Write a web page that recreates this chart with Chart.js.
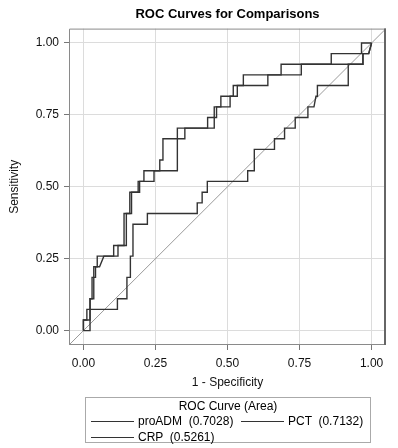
<!DOCTYPE html>
<html>
<head>
<meta charset="utf-8">
<script src="https://cdn.jsdelivr.net/npm/chart.js@4.4.1/dist/chart.umd.min.js"></script>
<style>
  html, body { margin: 0; padding: 0; background: #fff; }
  #wrap { position: relative; width: 398px; height: 448px; font-family: "Liberation Sans", Arial, sans-serif; }
  #c { position: absolute; left: 0; top: 0; }
  #legend { position: absolute; left: 85px; top: 397px; width: 286px; height: 46px; border: 1px solid #aaa; box-sizing: border-box; font-size: 12px; color: #000; }
  #legend .ttl { position: absolute; left: 0; right: 0; top: 1px; text-align: center; }
  #legend .item { position: absolute; height: 14px; white-space: pre; }
  #legend .ln { position: absolute; left: 0; top: 7px; width: 43px; border-top: 1px solid #333; }
  #legend .tx { position: absolute; left: 47px; top: 0; line-height: 14px; }
</style>
</head>
<body>
<div id="wrap">
  <canvas id="c" width="398" height="448"></canvas>
  <div id="legend"></div>
</div>
<script>
// ---- data ----
const chartTitle = "ROC Curves for Comparisons";
const xTitle = "1 - Specificity";
const yTitle = "Sensitivity";
const legendTitle = "ROC Curve (Area)";
const tickValues = [0, 0.25, 0.5, 0.75, 1.0];
const axisRange = [-0.05, 1.05];

const seriesNames = ["proADM", "PCT", "CRP"];
const seriesAUC = ["0.7028", "0.7132", "0.5261"];

// proADM: 1 - specificity, sensitivity
const proadmFPR = [0, 0.023, 0.023, 0.03, 0.03, 0.042, 0.042, 0.056, 0.071, 0.12, 0.12, 0.149, 0.149, 0.167, 0.167, 0.195, 0.195, 0.245, 0.245, 0.326, 0.326, 0.454, 0.454, 0.462, 0.462, 0.509, 0.509, 0.534, 0.534, 0.64, 0.64, 0.756, 0.756, 0.97, 0.97, 0.99, 1];
const proadmTPR = [0, 0, 0.111, 0.111, 0.185, 0.185, 0.222, 0.222, 0.259, 0.259, 0.296, 0.296, 0.407, 0.407, 0.481, 0.481, 0.519, 0.519, 0.556, 0.556, 0.704, 0.704, 0.741, 0.741, 0.778, 0.778, 0.815, 0.815, 0.852, 0.852, 0.889, 0.889, 0.926, 0.926, 0.963, 0.963, 1];

// PCT
const pctFPR = [0, 0, 0.012, 0.012, 0.023, 0.023, 0.036, 0.036, 0.048, 0.048, 0.105, 0.105, 0.141, 0.141, 0.161, 0.161, 0.19, 0.19, 0.21, 0.21, 0.265, 0.265, 0.276, 0.276, 0.352, 0.352, 0.431, 0.431, 0.454, 0.454, 0.477, 0.477, 0.52, 0.52, 0.555, 0.555, 0.686, 0.686, 0.86, 0.86, 0.965, 0.965, 1];
const pctTPR = [0, 0.037, 0.037, 0.074, 0.074, 0.111, 0.111, 0.222, 0.222, 0.259, 0.259, 0.296, 0.296, 0.407, 0.407, 0.481, 0.481, 0.519, 0.519, 0.556, 0.556, 0.593, 0.593, 0.667, 0.667, 0.704, 0.704, 0.741, 0.741, 0.778, 0.778, 0.815, 0.815, 0.852, 0.852, 0.889, 0.889, 0.926, 0.926, 0.963, 0.963, 1, 1];

// CRP
const crpFPR = [0, 0, 0.023, 0.023, 0.118, 0.118, 0.151, 0.151, 0.163, 0.163, 0.172, 0.172, 0.222, 0.222, 0.395, 0.395, 0.412, 0.412, 0.43, 0.43, 0.57, 0.57, 0.593, 0.593, 0.663, 0.663, 0.698, 0.698, 0.735, 0.735, 0.779, 0.779, 0.8, 0.807, 0.812, 0.812, 0.919, 0.919, 0.97, 0.97, 0.99, 1];
const crpTPR = [0, 0.037, 0.037, 0.074, 0.074, 0.111, 0.111, 0.185, 0.185, 0.259, 0.259, 0.370, 0.370, 0.407, 0.407, 0.444, 0.444, 0.481, 0.481, 0.519, 0.519, 0.556, 0.556, 0.630, 0.630, 0.667, 0.667, 0.704, 0.704, 0.741, 0.741, 0.778, 0.778, 0.815, 0.815, 0.852, 0.852, 0.926, 0.926, 0.963, 0.963, 1];

// chance line y = x across the axis range
const chanceLine = axisRange;

// ---- build chart ----
const FONT = '"Liberation Sans", Arial, sans-serif';
const toPts = (xs, ys) => xs.map((x, i) => ({ x: x, y: ys[i] }));
const curveStyle = { showLine: true, pointRadius: 0, pointHoverRadius: 0, borderColor: '#333', borderWidth: 1.4, fill: false, tension: 0 };

const frame = {
  id: 'frame',
  afterDatasetsDraw(chart) {
    const { ctx, chartArea: a } = chart;
    ctx.save();
    ctx.strokeStyle = '#8a8a8a';
    ctx.lineWidth = 1;
    ctx.beginPath();
    ctx.moveTo(a.right, a.top + 0.5); ctx.lineTo(a.left + 0.5, a.top + 0.5);
    ctx.lineTo(a.left + 0.5, a.bottom - 0.5); ctx.lineTo(a.right, a.bottom - 0.5);
    ctx.stroke();
    ctx.strokeStyle = '#666';
    ctx.lineWidth = 2;
    ctx.beginPath();
    ctx.moveTo(a.right - 1, a.top); ctx.lineTo(a.right - 1, a.bottom);
    ctx.stroke();
    ctx.restore();
  }
};

function axisOpts(title, isY) {
  return {
    type: 'linear',
    min: axisRange[0],
    max: axisRange[1],
    afterBuildTicks: (ax) => { ax.ticks = tickValues.map(v => ({ value: v })); },
    afterFit: (ax) => { if (isY) ax.width = 69; else ax.height = 49; },
    grid: { color: '#dcdcdc', lineWidth: 1, drawTicks: true, tickLength: 5, tickColor: '#777' },
    border: { display: false },
    ticks: { callback: (v) => Number(v).toFixed(2), font: { family: FONT, size: 12 }, color: '#111', padding: isY ? 5 : 6, maxRotation: 0, autoSkip: false },
    title: { display: true, text: title, font: { family: FONT, size: 12 }, color: '#111', padding: isY ? { top: 7, bottom: 4 } : { top: 4, bottom: 4 } }
  };
}

new Chart(document.getElementById('c'), {
  type: 'scatter',
  data: {
    datasets: [
      Object.assign({ label: seriesNames[0], data: toPts(proadmFPR, proadmTPR) }, curveStyle),
      Object.assign({ label: seriesNames[1], data: toPts(pctFPR, pctTPR) }, curveStyle),
      Object.assign({ label: seriesNames[2], data: toPts(crpFPR, crpTPR) }, curveStyle),
      { label: 'chance', data: toPts(chanceLine, chanceLine), showLine: true, pointRadius: 0, borderColor: '#9a9a9a', borderWidth: 1, fill: false }
    ]
  },
  options: {
    responsive: false,
    animation: false,
    devicePixelRatio: 1,
    layout: { padding: { left: 0, right: 12, top: 0, bottom: 54 } },
    plugins: {
      legend: { display: false },
      tooltip: { enabled: false },
      title: { display: true, text: chartTitle, fullSize: false, font: { family: FONT, size: 13, weight: 'bold' }, color: '#000', padding: { top: 7, bottom: 6 } }
    },
    scales: { x: axisOpts(xTitle, false), y: axisOpts(yTitle, true) }
  },
  plugins: [frame]
});

// ---- HTML legend built from the series arrays ----
const lg = document.getElementById('legend');
const t = document.createElement('div');
t.className = 'ttl';
t.textContent = legendTitle;
lg.appendChild(t);
const slots = [[5, 16], [155, 16], [5, 32]];
seriesNames.forEach((name, i) => {
  const it = document.createElement('div');
  it.className = 'item';
  it.style.left = slots[i][0] + 'px';
  it.style.top = slots[i][1] + 'px';
  const ln = document.createElement('div'); ln.className = 'ln';
  const tx = document.createElement('div'); tx.className = 'tx';
  tx.textContent = name + '  (' + seriesAUC[i] + ')';
  it.appendChild(ln); it.appendChild(tx);
  lg.appendChild(it);
});
</script>
</body>
</html>
